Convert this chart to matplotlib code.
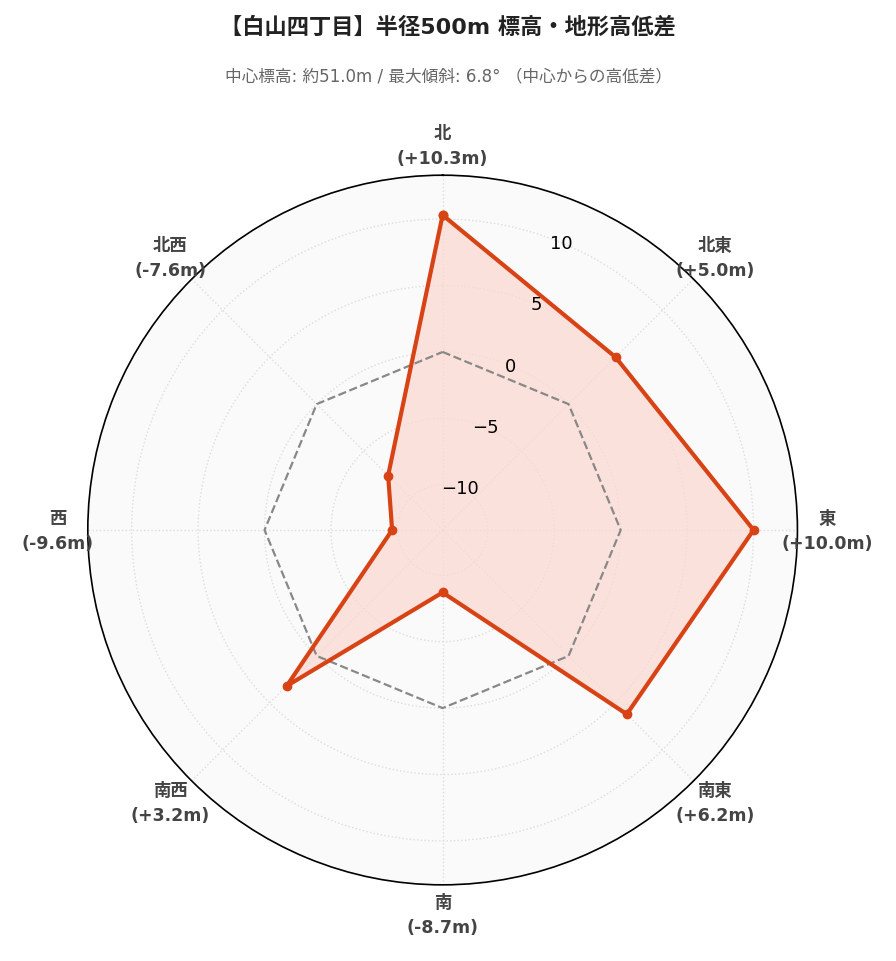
import numpy as np
import matplotlib.pyplot as plt

plt.rcParams['font.family'] = ['DejaVu Sans', 'Noto Sans CJK JP']

directions = ['北', '北東', '東', '南東', '南', '南西', '西', '北西']
diffs = [10.3, 5.0, 10.0, 6.2, -8.7, 3.2, -9.6, -7.6]
r_ticks = [-10, -5, 0, 5, 10]

theta = np.deg2rad(np.arange(len(directions)) * 45.0)
th_closed = np.append(theta, theta[0])
val_closed = np.append(diffs, diffs[0])

fig = plt.figure(figsize=(8.96, 9.62), dpi=100)
ax = fig.add_axes([0.098, 0.079, 0.792, 0.738], projection='polar')
ax.set_theta_zero_location('N')
ax.set_theta_direction(-1)
ax.set_facecolor('#fafafa')
ax.set_ylim(-13.4, 13.3)

ax.plot(th_closed, np.zeros_like(th_closed), color='#888888', lw=1.6, ls='--', zorder=4)
ax.fill(th_closed, val_closed, color='#fcd9d1', alpha=0.75, zorder=2)
ax.plot(th_closed, val_closed, color='#d84315', lw=3, marker='o', ms=6, zorder=5)

ax.set_xticks(theta)
ax.set_xticklabels([])
ax.set_yticks(r_ticks)
ax.set_yticklabels([])
ax.set_rlabel_position(22.5)
ax.grid(color='#dddddd', ls=':', lw=1)
ax.spines['polar'].set_color('black')
ax.spines['polar'].set_linewidth(1.2)

# radial tick labels drawn on top of the filled area
for r in r_ticks:
    ax.text(np.deg2rad(22.5), r, f'{r}'.replace('-', '−'), fontsize=13,
            ha='center', va='center', color='black', zorder=6)

d = 385 / 710
for t, name, v in zip(theta, directions, diffs):
    ax.text(0.5 + d * np.sin(t), 0.5 + d * np.cos(t), f'{name}\n({v:+.1f}m)',
            transform=ax.transAxes, ha='center', va='center', fontsize=12.5,
            fontweight='bold', color='#444444', linespacing=1.5)

fig.text(0.5, 0.972, '【白山四丁目】半径500m 標高・地形高低差', ha='center', va='center',
         fontsize=16, fontweight='bold', color='#222222')
fig.text(0.5, 0.921, '中心標高: 約51.0m / 最大傾斜: 6.8° （中心からの高低差）', ha='center',
         va='center', fontsize=12, color='#666666')

fig.savefig('out.png', dpi=100)
